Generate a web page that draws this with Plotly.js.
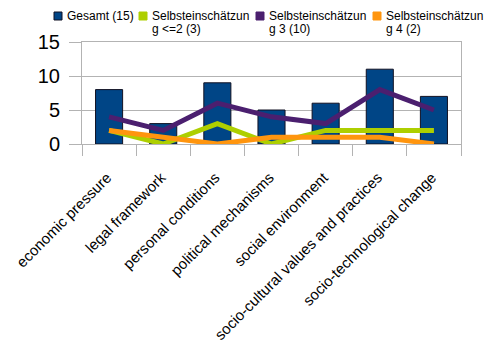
<!DOCTYPE html>
<html>
<head>
<meta charset="utf-8">
<script src="https://cdn.plot.ly/plotly-3.0.1.min.js"></script>
<style>html,body{margin:0;padding:0;background:#fff;}#chart{width:488px;height:342px;}</style>
</head>
<body>
<div id="chart"></div>
<script>
var categories = ["economic pressure", "legal framework", "personal conditions", "political mechanisms", "social environment", "socio-cultural values and practices", "socio-technological change"];
var gesamt = [8, 3, 9, 5, 6, 11, 7];
var selbst_le2 = [2, 0, 3, 0, 2, 2, 2];
var selbst_3 = [4, 2, 6, 4, 3, 8, 5];
var selbst_4 = [2, 1, 0, 1, 1, 1, 0];
var seriesNames = ["Gesamt (15)", "Selbsteinschätzung <=2 (3)", "Selbsteinschätzung 3 (10)", "Selbsteinschätzung 4 (2)"];
var legendLines = [["Gesamt (15)"], ["Selbsteinschätzun", "g &lt;=2 (3)"], ["Selbsteinschätzun", "g 3 (10)"], ["Selbsteinschätzun", "g 4 (2)"]];
var yTicks = [0, 5, 10, 15];
var colors = ["#004586", "#aecf00", "#4b1f6f", "#ff950e"];

var FONT = "Liberation Sans";
var L = 82, R = 461, T = 42, B = 144, W = 488, H = 342;
function px(x){ return (x - L) / (R - L); }
function py(y){ return (B - y) / (B - T); }

var traces = [
  {type: "bar", x: categories, y: gesamt, name: seriesNames[0], marker: {color: colors[0], line: {color: "#111122", width: 1}}, showlegend: false},
  {type: "scatter", mode: "lines", x: categories, y: selbst_le2, name: seriesNames[1], line: {color: colors[1], width: 5}, showlegend: false},
  {type: "scatter", mode: "lines", x: categories, y: selbst_3, name: seriesNames[2], line: {color: colors[2], width: 5}, showlegend: false},
  {type: "scatter", mode: "lines", x: categories, y: selbst_4, name: seriesNames[3], line: {color: colors[3], width: 5}, showlegend: false}
];

var swatchX = [54, 139, 256, 373];
var shapes = [], annotations = [];
for (var i = 0; i < 4; i++) {
  shapes.push({type: "rect", xref: "paper", yref: "paper", x0: px(swatchX[i]), x1: px(swatchX[i] + 8), y0: py(20), y1: py(12),
    fillcolor: colors[i], line: {color: i === 0 ? "#111122" : colors[i], width: 1}});
  for (var j = 0; j < legendLines[i].length; j++) {
    annotations.push({xref: "paper", yref: "paper", x: px(swatchX[i] + 11), y: py(15.5 + j * 13), xanchor: "left", yanchor: "middle",
      text: legendLines[i][j], showarrow: false, font: {family: FONT, size: 12, color: "#000"}});
  }
}

var layout = {
  width: W, height: H,
  margin: {l: L, r: W - R, t: T, b: H - B, pad: 0},
  paper_bgcolor: "#fff", plot_bgcolor: "#fff",
  font: {family: FONT, color: "#000"},
  showlegend: false,
  bargap: 0.5,
  xaxis: {
    type: "category", automargin: false, tickangle: -45, tickson: "boundaries",
    ticks: "outside", ticklen: 11, tickcolor: "#b3b3b3", tickwidth: 1,
    ticklabelstandoff: 18, ticklabelshift: -2,
    showline: true, linecolor: "#b3b3b3", linewidth: 1, mirror: true,
    showgrid: false, tickfont: {family: FONT, size: 15, color: "#000"}
  },
  yaxis: {
    range: [0, 15], tickvals: yTicks, automargin: false,
    ticks: "outside", ticklen: 12, tickcolor: "#b3b3b3", tickwidth: 1,
    ticklabelstandoff: 5,
    showline: true, linecolor: "#b3b3b3", linewidth: 1, mirror: true,
    showgrid: true, gridcolor: "#b3b3b3", gridwidth: 1, zeroline: false,
    tickfont: {family: FONT, size: 20, color: "#000"}
  },
  shapes: shapes,
  annotations: annotations
};

Plotly.newPlot("chart", traces, layout, {staticPlot: true, displayModeBar: false});
</script>
</body>
</html>
